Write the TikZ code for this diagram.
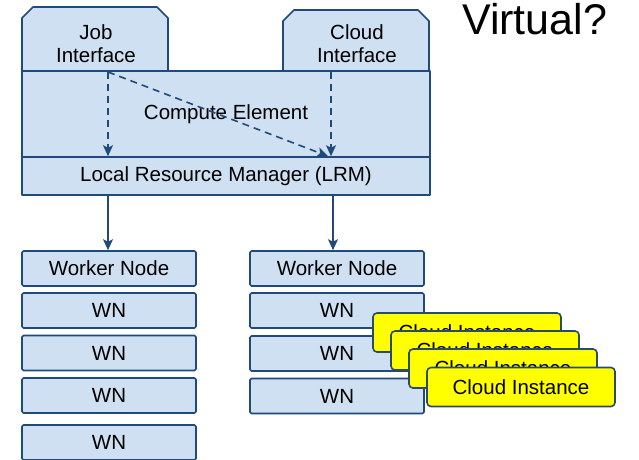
\documentclass[tikz,border=0pt]{standalone}
\usepackage{fontspec}
\setmainfont{Liberation Sans}
\usetikzlibrary{arrows.meta}
\definecolor{boxfill}{HTML}{CFE0F2}
\definecolor{boxline}{HTML}{1F4A7A}
\definecolor{ciline}{HTML}{2A4A6A}
\definecolor{cifill}{HTML}{FFFF00}
\begin{document}
\begin{tikzpicture}[x=1pt,y=-1pt,
  every node/.style={font=\fontsize{20.5}{23}\selectfont, inner sep=0pt},
  shapeline/.style={draw=boxline, fill=boxfill, line width=1.6pt, line join=round},
  box/.style={shapeline, rounded corners=1.5pt},
  wnbox/.style={box, minimum width=174pt, minimum height=35pt},
  cibox/.style={draw=ciline, fill=cifill, line width=1.6pt, rounded corners=4pt, minimum width=188pt, minimum height=39pt},
  arr/.style={draw=boxline, line width=1.6pt, -{Stealth[length=11pt,width=10pt,inset=2.5pt]}},
  dasharr/.style={arr, dash pattern=on 7pt off 5pt}
]
\clip (0,0) rectangle (639,459);
\fill[white] (0,0) rectangle (639,459);

% interfaces (chamfered tops)
\draw[shapeline] (22,71) -- (22,18) -- (33,7) -- (157,7) -- (168,18) -- (168,71) -- cycle;
\draw[shapeline] (283,71) -- (283,21) -- (294,10) -- (418,10) -- (429,21) -- (429,71) -- cycle;
\node[align=center] (ji) at (96,43.5) {Job\\Interface};
\node[align=center] (ci) at (357,43.5) {Cloud\\Interface};

% compute element and LRM
\node[shapeline, minimum width=408pt, minimum height=86pt] (ce) at (226,114) {Compute Element};
\node[shapeline, minimum width=408pt, minimum height=38pt] (lrm) at (226,176) {Local Resource Manager (LRM)};

% dashed arrows inside compute element
\coordinate (js) at (108,72);
\coordinate (cs) at (331,72);
\draw[dasharr] (js) -- (js |- lrm.north);
\draw[dasharr] (cs) -- (cs |- lrm.north);
\draw[dasharr] (js) -- ([xshift=-3pt]cs |- lrm.north);

% worker node columns
\node[wnbox] (wl1) at (109,268.5) {Worker Node};
\node[wnbox] (wl2) at (109,310.5) {WN};
\node[wnbox] (wl3) at (109,353) {WN};
\node[wnbox] (wl4) at (109,395.5) {WN};
\node[wnbox] (wl5) at (109,442.5) {WN};

\node[wnbox] (wr1) at (337,268.5) {Worker Node};
\node[wnbox] (wr2) at (337,310.5) {WN};
\node[wnbox] (wr3) at (337,353.5) {WN};
\node[wnbox] (wr4) at (337,396) {WN};

% arrows from LRM
\coordinate (la) at (108,195);
\coordinate (ra) at (333,195);
\draw[arr] (la) -- (la |- wl1.north);
\draw[arr] (ra) -- (ra |- wr1.north);

% cloud instances
\node[cibox] (c1) at (467,332.5) {Cloud Instance};
\node[cibox] (c2) at (485,350.5) {Cloud Instance};
\node[cibox] (c3) at (503,368.5) {Cloud Instance};
\node[cibox] (c4) at (521,387) {Cloud Instance};

% title
\node[font=\fontsize{43}{50}\selectfont, anchor=base west] (virt) at (462,34) {Virtual?};
\end{tikzpicture}
\end{document}
